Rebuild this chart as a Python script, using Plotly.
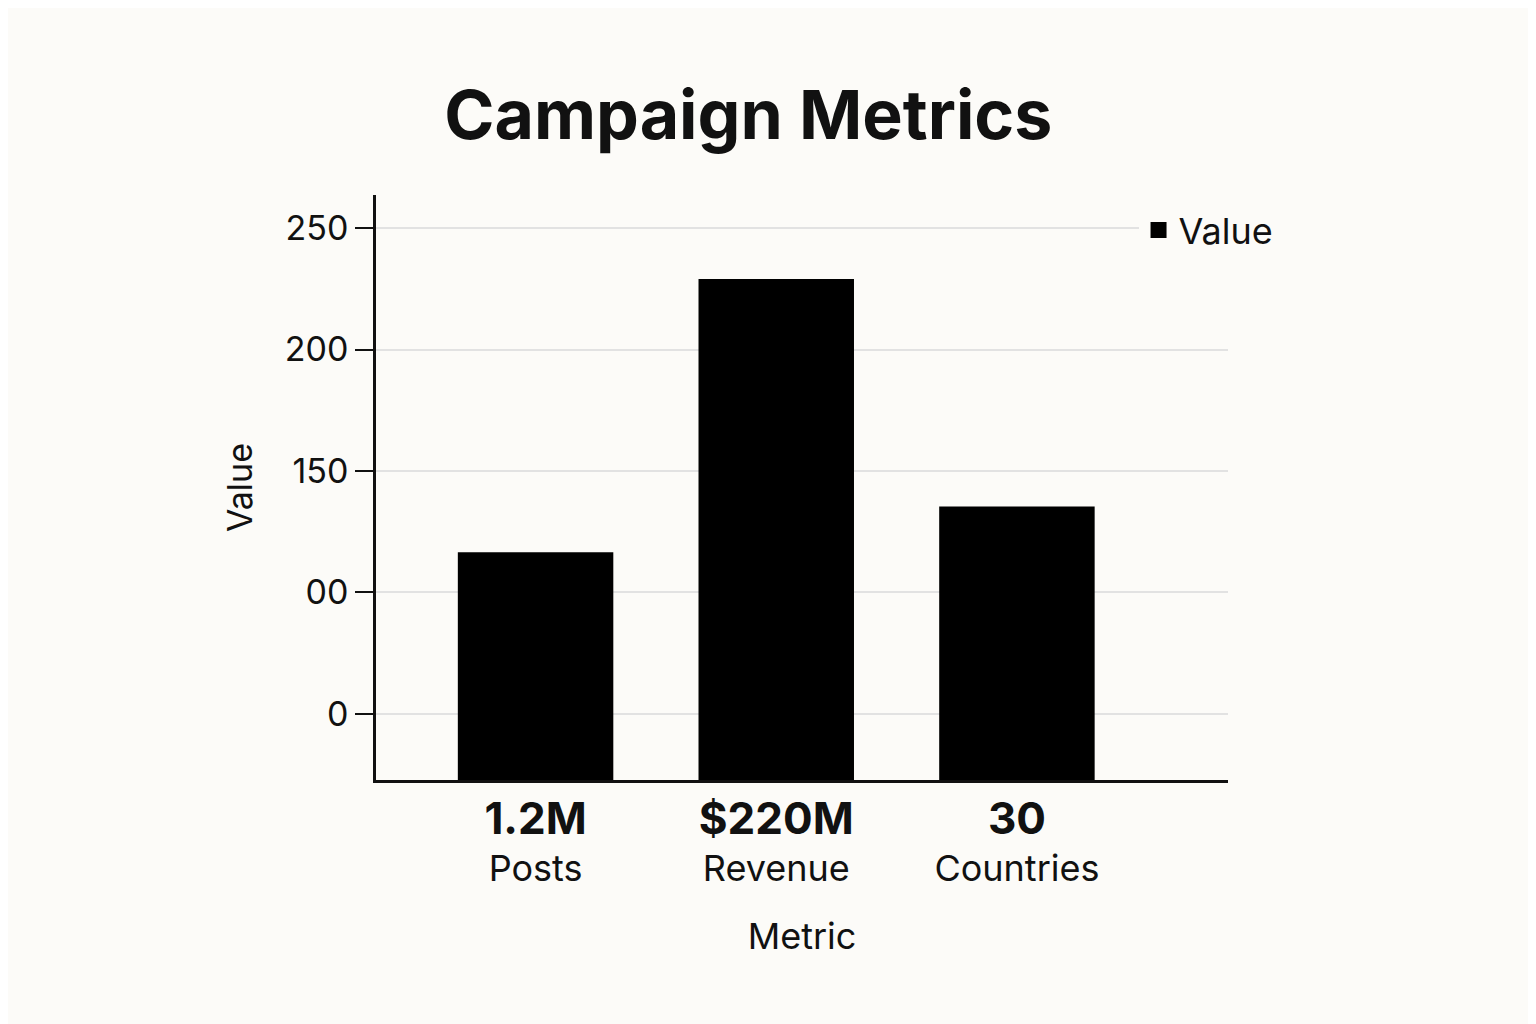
import plotly.graph_objects as go

metrics = ["Posts", "Revenue", "Countries"]
headline = ["1.2M", "$220M", "30"]
values = [116.5, 229, 135.4]
tick_vals = [50, 100, 150, 200, 250]
tick_text = ["0", "00", "150", "200", "250"]

labels = [f"<span style='font-size:44px'><b>{h}</b></span><br>{m}" for h, m in zip(headline, metrics)]

fig = go.Figure()
fig.add_bar(x=list(range(len(metrics))), y=values, name="Value",
            marker=dict(color="black", line=dict(width=0)), width=0.646,
            showlegend=False)
# legend entry with a larger square symbol
fig.add_scatter(x=[None], y=[None], mode="markers", name="Value",
                marker=dict(symbol="square", size=30, color="black"))

fig.update_layout(
    width=1536, height=1024,
    paper_bgcolor="#fcfbf8", plot_bgcolor="#fcfbf8",
    font=dict(family="Inter, Liberation Sans, sans-serif", color="#111", size=36),
    margin=dict(l=368, r=316, t=187, b=252),
    title=dict(text="<b>Campaign Metrics</b>", x=0.482, xanchor="center", y=0.895,
               yanchor="middle", font=dict(size=68, color="#111")),
    legend=dict(x=0.895, xanchor="left", y=0.94, yanchor="middle",
                bgcolor="#fcfbf8", font=dict(size=36)),
    xaxis=dict(range=[-0.663, 2.877], tickvals=[0, 1, 2], ticktext=labels,
               showline=True, linecolor="#111", linewidth=2.5, showgrid=False,
               ticks="", tickfont=dict(size=36), ticklabelstandoff=8,
               title=dict(text="Metric", font=dict(size=36), standoff=36)),
    yaxis=dict(range=[22.8, 263.6], tickvals=tick_vals, ticktext=tick_text,
               showline=True, linecolor="#111", linewidth=2.5,
               ticks="outside", ticklen=18, tickcolor="#111", tickwidth=2,
               gridcolor="#e2e2e2", gridwidth=1.5, zeroline=False,
               tickfont=dict(size=34),
               title=dict(text="Value", font=dict(size=34), standoff=22)),
)

fig.write_html("out.html")
